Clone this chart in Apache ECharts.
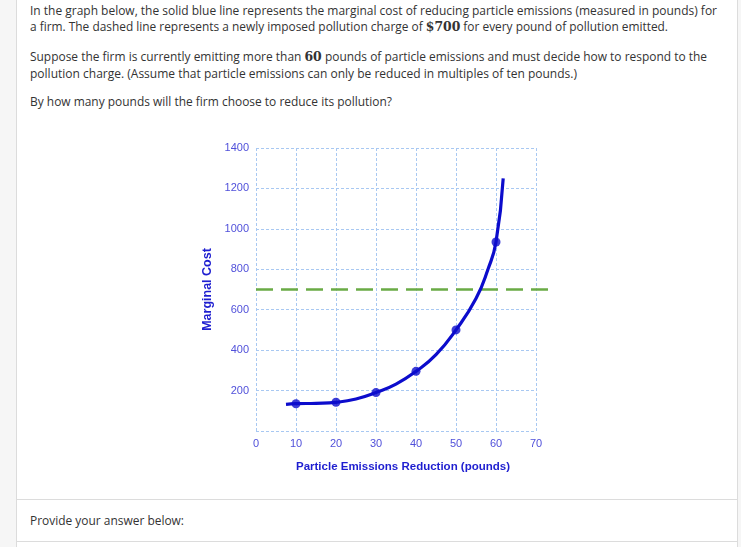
<!DOCTYPE html>
<html>
<head>
<meta charset="utf-8">
<script src="https://cdn.jsdelivr.net/npm/echarts@6/dist/echarts.min.js"></script>
<style>
  html, body { margin:0; padding:0; width:741px; height:547px; overflow:hidden; background:#f6f6f6; }
  #page { position:absolute; left:16px; top:0; width:720px; height:547px; background:#fff; border-left:1px solid #dcdcdc; border-right:1px solid #dcdcdc; }
  .ln { position:absolute; left:30px; white-space:nowrap; font-family:"Open Sans", sans-serif; font-size:12px; color:#333; transform-origin:0 50%; line-height:16px; }
  .m { font-family:"DejaVu Serif", serif; font-weight:bold; font-size:12.5px; }
  .hr { position:absolute; left:17px; width:720px; height:1px; background:#dcdcdc; }
  #chart { position:absolute; left:0; top:0; width:741px; height:547px; }
</style>
</head>
<body>
<div id="page"></div>
<div class="hr" style="top:499px"></div>
<div class="hr" style="top:541px"></div>
<div class="ln" data-w="687" style="top:3px">In the graph below, the solid blue line represents the marginal cost of reducing particle emissions (measured in pounds) for</div>
<div class="ln" data-w="638" style="top:19px">a firm. The dashed line represents a newly imposed pollution charge of <span class="m">$700</span> for every pound of pollution emitted.</div>
<div class="ln" data-w="677" style="top:49px">Suppose the firm is currently emitting more than <span class="m">60</span> pounds of particle emissions and must decide how to respond to the</div>
<div class="ln" data-w="547" style="top:66px">pollution charge. (Assume that particle emissions can only be reduced in multiples of ten pounds.)</div>
<div class="ln" data-w="362" style="top:94px">By how many pounds will the firm choose to reduce its pollution?</div>
<div class="ln" data-w="154" style="top:513px">Provide your answer below:</div>
<div id="chart"></div>
<script>
// Data
const xTicks = [0, 10, 20, 30, 40, 50, 60, 70];
const yTicks = [0, 200, 400, 600, 800, 1000, 1200, 1400];
// marked points on the marginal-cost curve
const mcPointX = [10, 20, 30, 40, 50, 60];
const mcPointY = [135, 142, 190, 295, 500, 935];
// points (including its ends)
const curveX = [7.5, 10, 15, 20, 25, 30, 35, 40, 45, 50, 55, 58, 60, 61.8];
const curveY = [132, 135, 137, 142, 158, 190, 232, 295, 378, 500, 655, 800, 935, 1250];
// pollution charge (dashed line), which runs a little past the grid
const chargeValue = 700;
const chargeX = [0, 73.8];

document.querySelectorAll('.ln').forEach(function (el) {
  const target = +el.getAttribute('data-w');
  const w = el.getBoundingClientRect().width;
  if (w > 0) el.style.transform = 'scaleX(' + (target / w) + ')';
});

const chart = echarts.init(document.getElementById('chart'), null, { renderer: 'canvas' });
const gridLine = { show: true, lineStyle: { color: '#a8c8f2', width: 1, type: [3, 2] } };
const xMax = xTicks[xTicks.length - 1];
const pxPerX = 4;
const labelFont = 'Arial, "Liberation Sans"';
chart.setOption({
  backgroundColor: 'transparent',
  animation: false,
  grid: [
    { left: 256, top: 148, width: xMax * pxPerX, height: 283 },
    { left: 256, top: 148, width: chargeX[1] * pxPerX, height: 283 }
  ],
  xAxis: [{
    type: 'value', gridIndex: 0, min: xTicks[0], max: xMax, interval: 10,
    axisLine: { show: false }, axisTick: { show: false }, splitLine: gridLine,
    axisLabel: { color: '#5050da', fontFamily: labelFont, fontSize: 11, margin: 7 },
    name: 'Particle Emissions Reduction (pounds)', nameLocation: 'middle', nameGap: 30,
    nameTextStyle: { color: '#1e1ed0', fontWeight: 'bold', fontSize: 11.5, fontFamily: labelFont, padding: [0, 0, 0, 14] }
  }, {
    type: 'value', gridIndex: 1, min: 0, max: chargeX[1], show: false
  }],
  yAxis: [{
    type: 'value', gridIndex: 0, min: yTicks[0], max: yTicks[yTicks.length - 1], interval: 200,
    axisLine: { show: false }, axisTick: { show: false }, splitLine: gridLine,
    axisLabel: { color: '#5050da', fontFamily: labelFont, fontSize: 11, margin: 7, showMinLabel: false,
      formatter: function (v) { return String(v); } },
    name: 'Marginal Cost', nameLocation: 'middle', nameGap: 42,
    nameTextStyle: { color: '#1e1ed0', fontWeight: 'bold', fontSize: 12.5, fontFamily: labelFont }
  }, {
    type: 'value', gridIndex: 1, min: yTicks[0], max: yTicks[yTicks.length - 1], show: false
  }],
  series: [
    {
      type: 'line', xAxisIndex: 1, yAxisIndex: 1, clip: false, silent: true, symbol: 'none',
      data: chargeX.map(function (x) { return [x, chargeValue]; }),
      lineStyle: { color: '#6aab45', width: 2.5, type: [17, 8] }, z: 2
    },
    {
      type: 'line', clip: false, silent: true, symbol: 'none', smooth: 0.5,
      data: curveX.map(function (x, i) { return [x, curveY[i]]; }),
      lineStyle: { color: '#0c0ccc', width: 3.2 }, z: 3
    },
    {
      type: 'scatter', silent: true, symbolSize: 9,
      data: mcPointX.map(function (x, i) { return [x, mcPointY[i]]; }),
      itemStyle: { color: '#0c0ccc' }, z: 4
    }
  ]
});
</script>
</body>
</html>
